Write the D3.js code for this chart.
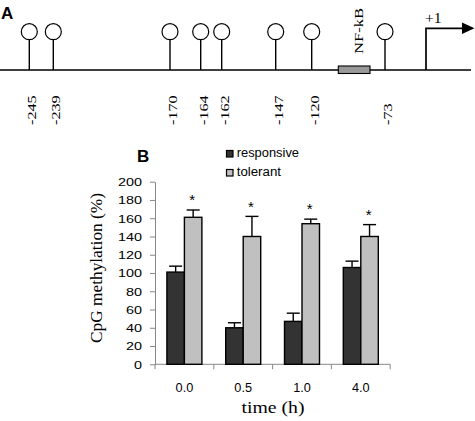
<!DOCTYPE html>
<html><head><meta charset="utf-8">
<script src="https://cdn.jsdelivr.net/npm/d3@7"></script>
<style>body{margin:0;background:#fff}svg{display:block}</style>
</head><body><div id="c"></div>
<script>
// Panel A data
const cpgSites = [-245, -239, -170, -164, -162, -147, -120, -73];
const nfkbSite = [-95, -85];
const tssPos = 1;
// schematic (non-proportional) mapping of promoter positions
const schemDomain = [-245, -239, -170, -164, -162, -147, -120, -95, -85, -73, 1];
// Panel B data
const times = ["0.0", "0.5", "1.0", "4.0"];
const seriesNames = ["responsive", "tolerant"];
const responsive = [101, 40, 47, 106];
const responsiveErr = [6.5, 5.5, 9, 7];
const tolerant = [161, 140, 154, 140];
const tolerantErr = [8, 22, 5, 13];
const significant = [true, true, true, true];
const yTicks = [0, 20, 40, 60, 80, 100, 120, 140, 160, 180, 200];

const W = 475, H = 421;
const svg = d3.select("#c").append("svg").attr("width", W).attr("height", H);
const serif = "Liberation Serif, Times New Roman, serif";
const fontSans = "Arial, Liberation Sans, sans-serif";

// ---------- Panel A ----------
const xA = d3.scaleLinear().domain(schemDomain)
  .range([29.3, 53.3, 170, 200.7, 221.7, 275.7, 311.7, 338.3, 370, 385, 426]);
const lineY = 70;
svg.append("text").attr("x", 1).attr("y", 19).text("A")
  .attr("font-family", fontSans).attr("font-weight", "bold").attr("font-size", 17);
svg.append("line").attr("x1", 0).attr("x2", 471).attr("y1", lineY).attr("y2", lineY)
  .attr("stroke", "#000").attr("stroke-width", 1.7);
const lol = svg.append("g").selectAll("g").data(cpgSites).join("g");
lol.append("line").attr("x1", d => xA(d)).attr("x2", d => xA(d)).attr("y1", 40).attr("y2", lineY)
  .attr("stroke", "#000").attr("stroke-width", 1.4);
lol.append("circle").attr("cx", d => xA(d)).attr("cy", 31.7).attr("r", 8)
  .attr("fill", "#fff").attr("stroke", "#000").attr("stroke-width", 1.2);
lol.append("text").attr("transform", d => `translate(${xA(d) + 6.8},125) rotate(-90) scale(1.35,1)`)
  .text(d => String(d)).attr("font-family", serif).attr("font-size", 12);
svg.append("rect").attr("x", xA(nfkbSite[0])).attr("width", xA(nfkbSite[1]) - xA(nfkbSite[0]))
  .attr("y", 66).attr("height", 7.5).attr("fill", "#999").attr("stroke", "#000").attr("stroke-width", 1.1);
svg.append("text").attr("transform", `translate(${(xA(nfkbSite[0]) + xA(nfkbSite[1])) / 2 + 9.3},54) rotate(-90) scale(1.38,1)`)
  .text("NF-kB").attr("font-family", serif).attr("font-size", 12);
const tx = xA(tssPos);
svg.append("path").attr("d", `M${tx},${lineY}V28.3H463`).attr("fill", "none").attr("stroke", "#000").attr("stroke-width", 1.7);
svg.append("path").attr("d", `M462,22.5L474.5,28.3L462,34Z`).attr("fill", "#000");
svg.append("text").attr("transform", `translate(${tx - 1},22.7) scale(1.12,1)`).text("+1")
  .attr("font-family", serif).attr("font-size", 14);

// ---------- Panel B ----------
const pLeft = 155, pRight = 390.2, pTop = 181.7, pBottom = 364.3;
const x0 = d3.scaleBand().domain(times).range([pLeft, pRight]).paddingInner(0).paddingOuter(0);
const x1 = d3.scaleBand().domain(seriesNames).range([0, 35]);
const y = d3.scaleLinear().domain([0, 200]).range([pBottom, pTop]);
const bw = x1.bandwidth();
const off = (x0.bandwidth() - 35) / 2;
const colors = { responsive: "#333333", tolerant: "#c0c0c0" };

svg.append("text").attr("x", 137).attr("y", 162).text("B")
  .attr("font-family", fontSans).attr("font-weight", "bold").attr("font-size", 17);

const yAxis = svg.append("g").attr("transform", `translate(${pLeft},0)`)
  .call(d3.axisLeft(y).tickValues(yTicks).tickSize(5).tickPadding(8).tickSizeOuter(0));
yAxis.select(".domain").attr("stroke", "#888");
yAxis.selectAll(".tick line").attr("stroke", "#888");
yAxis.selectAll("text").attr("font-family", fontSans).attr("font-size", 11.8).attr("fill", "#000")
  .attr("textLength", function () { return this.textContent.length * 8; })
  .attr("lengthAdjust", "spacingAndGlyphs");

const xAxis = svg.append("g").attr("transform", `translate(0,${pBottom})`)
  .call(d3.axisBottom(x0).tickSize(0).tickPadding(19));
xAxis.select(".domain").remove();
xAxis.selectAll("text").attr("font-family", fontSans).attr("font-size", 12).attr("fill", "#000")
  .attr("textLength", 17.7).attr("lengthAdjust", "spacingAndGlyphs");
svg.append("line").attr("x1", pLeft).attr("x2", pRight).attr("y1", pBottom).attr("y2", pBottom).attr("stroke", "#888");
svg.append("g").selectAll("line").data(times.map((t, i) => i).concat([times.length])).join("line")
  .attr("x1", i => pLeft + i * x0.step()).attr("x2", i => pLeft + i * x0.step())
  .attr("y1", pBottom).attr("y2", pBottom + 5).attr("stroke", "#888");

const data = [
  { name: "responsive", vals: responsive, err: responsiveErr },
  { name: "tolerant", vals: tolerant, err: tolerantErr }
];
data.forEach(s => {
  const g = svg.append("g");
  const bx = (i) => x0(times[i]) + off + x1(s.name);
  g.selectAll("line.err").data(s.vals).join("line")
    .attr("x1", (d, i) => bx(i) + bw / 2).attr("x2", (d, i) => bx(i) + bw / 2)
    .attr("y1", d => y(d)).attr("y2", (d, i) => y(d + s.err[i])).attr("stroke", "#000").attr("stroke-width", 1.4);
  g.selectAll("line.cap").data(s.vals).join("line")
    .attr("x1", (d, i) => bx(i) + bw / 2 - 6.5).attr("x2", (d, i) => bx(i) + bw / 2 + 6.5)
    .attr("y1", (d, i) => y(d + s.err[i])).attr("y2", (d, i) => y(d + s.err[i])).attr("stroke", "#000").attr("stroke-width", 1.4);
  g.selectAll("rect").data(s.vals).join("rect")
    .attr("x", (d, i) => bx(i)).attr("width", bw)
    .attr("y", d => y(d)).attr("height", d => pBottom - y(d))
    .attr("fill", colors[s.name]).attr("stroke", "#000").attr("stroke-width", 1.4);
});
svg.append("g").selectAll("text").data(tolerant).join("text")
  .filter((d, i) => significant[i])
  .attr("x", (d, i) => x0(times[i]) + off + x1("tolerant") + bw / 2 - 1)
  .attr("y", (d, i) => y(d + tolerantErr[i]) - 4.7)
  .attr("text-anchor", "middle").text("*")
  .attr("font-family", fontSans).attr("font-size", 15);

// legend
const lg = svg.append("g").selectAll("g").data(seriesNames).join("g")
  .attr("transform", (d, i) => `translate(226.5,${150.5 + i * 19})`);
lg.append("rect").attr("width", 6.5).attr("height", 6.5).attr("fill", d => colors[d]).attr("stroke", "#000").attr("stroke-width", 1.2);
lg.append("text").attr("x", 10.2).attr("y", 6.8).text(d => d)
  .attr("font-family", fontSans).attr("font-size", 12)
  .attr("textLength", d => d === "responsive" ? 62.3 : 44.3).attr("lengthAdjust", "spacingAndGlyphs");

svg.append("text").attr("transform", `translate(101.5,268) rotate(-90)`).attr("text-anchor", "middle")
  .text("CpG methylation (%)").attr("font-family", serif).attr("font-size", 16)
  .attr("textLength", 150).attr("lengthAdjust", "spacingAndGlyphs");
svg.append("text").attr("x", 273).attr("y", 413).attr("text-anchor", "middle")
  .text("time (h)").attr("font-family", serif).attr("font-size", 17.5)
  .attr("textLength", 63).attr("lengthAdjust", "spacingAndGlyphs");
</script></body></html>
